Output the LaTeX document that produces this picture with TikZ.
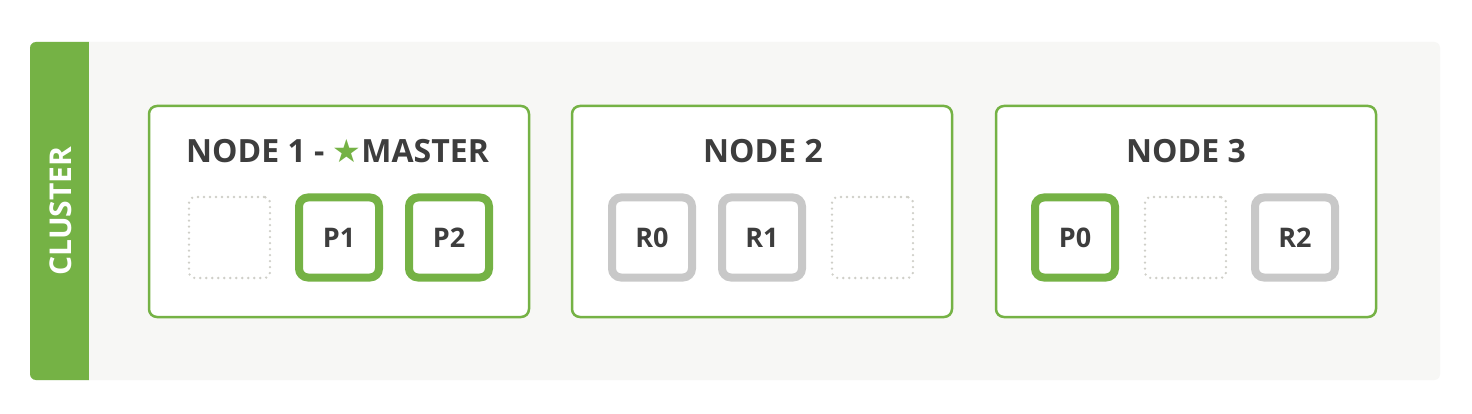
\documentclass[tikz,border=0pt]{standalone}
\usepackage{fontspec}
\setmainfont{Open Sans}
\newfontfamily\starfont{DejaVu Sans}
\usepackage{tikz}
\usepackage{xcolor}
\definecolor{es_green}{HTML}{75B245}
\definecolor{es_gray}{HTML}{C8C8C8}
\definecolor{es_dot}{HTML}{CFCFC8}
\definecolor{es_text}{HTML}{3D3D3D}
\definecolor{es_back}{HTML}{F7F7F5}

\begin{document}
\begin{tikzpicture}[x=1pt,y=-1pt,
    nodebox/.style={draw=es_green,line width=2.5pt,rounded corners=8pt,fill=white,minimum width=380pt,minimum height=211pt},
    title/.style={text=es_text,font=\bfseries\fontsize{32}{32}\selectfont},
    primary/.style={draw=es_green,line width=8pt,rounded corners=9pt,fill=white,minimum size=80pt,text=es_text,font=\bfseries\fontsize{27}{27}\selectfont},
    replica/.style={primary,draw=es_gray},
    free/.style={draw=es_dot,line width=2.6pt,line cap=round,dash pattern=on 0pt off 6pt,rounded corners=6pt,minimum size=81pt}]
            \useasboundingbox (0,0) rectangle (1472,414);
            \fill[white] (0,0) rectangle (1472,414);
            %背景とクラスタ
            \fill[es_back,rounded corners=6pt] (30,42) rectangle (1440,380);
            \fill[es_green,rounded corners=6pt] (30,42) rectangle (95,380);
            \fill[es_back] (89,42) rectangle (100,380);
            \node[rotate=90,text=white,font=\bfseries\fontsize{30}{30}\selectfont] (cluster) at (61,211) {CLUSTER};
            %ノード
            \node[nodebox] (node1) at (339,211.5) {};
            \node[nodebox] (node2) at (762,211.5) {};
            \node[nodebox] (node3) at (1186,211.5) {};
            \node[title] (title1) at (337.5,151) {NODE 1 - {\starfont\color{es_green}★}MASTER};
            \node[title] (title2) at (763,151) {NODE 2};
            \node[title] (title3) at (1186,151) {NODE 3};
            %シャード
            \node[free] (free1) at (229.5,237.5) {};
            \node[primary] (p1) at (339,237.5) {P1};
            \node[primary] (p2) at (449,237.5) {P2};
            \node[replica] (r0) at (652,237.5) {R0};
            \node[replica] (r1) at (762,237.5) {R1};
            \node[free] (free2) at (872.5,237.5) {};
            \node[primary] (p0) at (1075,237.5) {P0};
            \node[free] (free3) at (1185.5,237.5) {};
            \node[replica] (r2) at (1295,237.5) {R2};
        \end{tikzpicture}
\end{document}
